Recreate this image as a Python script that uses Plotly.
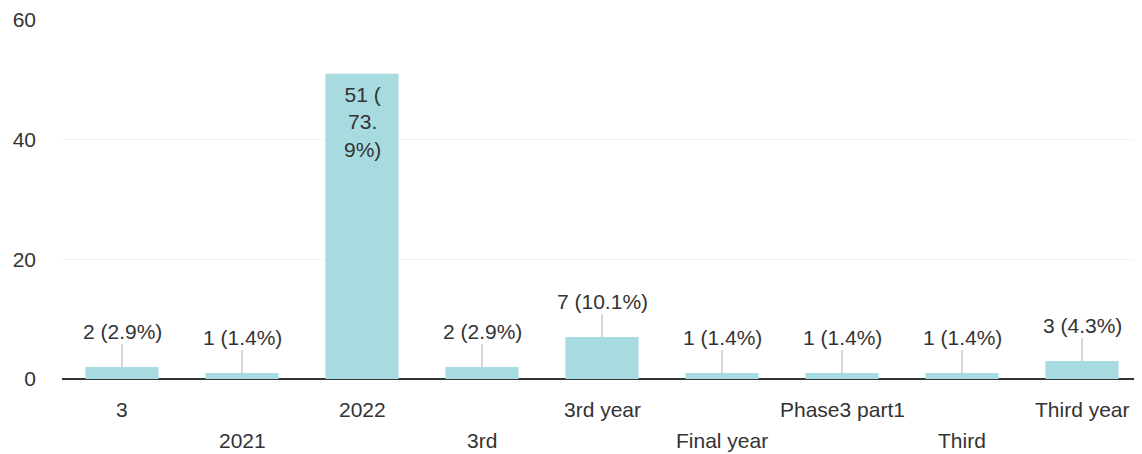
import plotly.graph_objects as go

categories = ["3", "2021", "2022", "3rd", "3rd year", "Final year", "Phase3 part1", "Third", "Third year"]
counts = [2, 1, 51, 2, 7, 1, 1, 1, 3]
percents = ["2.9%", "1.4%", "73.9%", "2.9%", "10.1%", "1.4%", "1.4%", "1.4%", "4.3%"]
y_ticks = [0, 20, 40, 60]

FONT = "Liberation Sans, Arial, sans-serif"
FS = 21
TXT = "#333333"
BAR = "#a8dbe0"
LEAD = "#c7a3c4"

fig = go.Figure()
fig.add_trace(go.Bar(
    x=list(range(len(categories))),
    y=counts,
    marker=dict(color=BAR, line=dict(width=0)),
    width=0.61,
    hoverinfo="skip",
))

annotations = []
for i, (c, p) in enumerate(zip(counts, percents)):
    if c >= 20:
        annotations.append(dict(
            x=i, y=c, xref="x", yref="y",
            text=f"{c} (<br>{p[:3]}<br>{p[3:]})",
            showarrow=False, yanchor="top", yshift=-7,
            font=dict(family=FONT, size=FS, color=TXT),
        ))
    else:
        annotations.append(dict(
            x=i, y=c, xref="x", yref="y",
            text=f"{c} ({p})",
            showarrow=True, arrowhead=0, arrowwidth=1, arrowcolor=LEAD,
            ax=0, ay=-36,
            font=dict(family=FONT, size=FS, color=TXT),
        ))

for i, cat in enumerate(categories):
    annotations.append(dict(
        x=i, y=0, xref="x", yref="y",
        text=cat, showarrow=False, yanchor="top",
        yshift=-17 if i % 2 == 0 else -48,
        font=dict(family=FONT, size=FS, color=TXT),
    ))

fig.update_layout(
    width=1134, height=446,
    margin=dict(l=54, r=0, t=12, b=75),
    paper_bgcolor="white", plot_bgcolor="white",
    showlegend=False,
    bargap=0.39,
    annotations=annotations,
    xaxis=dict(
        range=[-0.5, 8.5], showticklabels=False, showgrid=False,
        zeroline=False, showline=False, ticks="", automargin=False,
    ),
    yaxis=dict(
        range=[0, 60], tickvals=y_ticks, showgrid=True, gridcolor="#f2f2f2",
        zeroline=True, zerolinecolor="#333333", zerolinewidth=2,
        tickfont=dict(family=FONT, size=FS, color=TXT),
        ticklabelstandoff=25, showline=False, ticks="", automargin=False,
    ),
)

fig.write_html("out.html")
